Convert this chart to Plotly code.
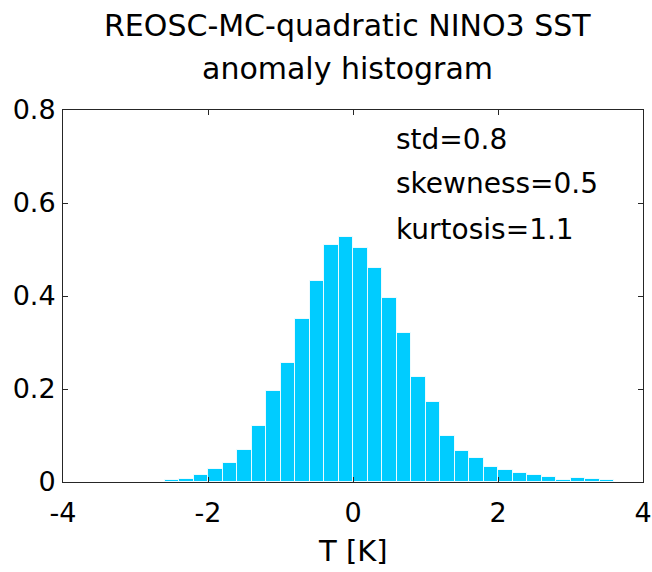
import plotly.graph_objects as go

# Histogram of NINO3 SST anomalies (bin centres in K, normalised frequency)
bin_centers = [-2.5, -2.3, -2.1, -1.9, -1.7, -1.5, -1.3, -1.1, -0.9, -0.7, -0.5,
               -0.3, -0.1, 0.1, 0.3, 0.5, 0.7, 0.9, 1.1, 1.3, 1.5, 1.7, 1.9,
               2.1, 2.3, 2.5, 2.7, 2.9, 3.1, 3.3, 3.5]
frequency = [0.004, 0.007, 0.015, 0.029, 0.040, 0.069, 0.121, 0.196, 0.257,
             0.351, 0.432, 0.510, 0.527, 0.504, 0.461, 0.395, 0.320, 0.225,
             0.173, 0.100, 0.067, 0.052, 0.032, 0.026, 0.020, 0.014, 0.011,
             0.004, 0.009, 0.006, 0.004]
bin_width = 0.2

x_ticks = [-4, -2, 0, 2, 4]
y_ticks = [0, 0.2, 0.4, 0.6, 0.8]
y_tick_text = ["0", "0.2", "0.4", "0.6", "0.8"]

title_lines = ["REOSC-MC-quadratic NINO3 SST", "anomaly histogram"]
stats_lines = ["std=0.8", "skewness=0.5", "kurtosis=1.1"]
x_label = "T [K]"

FONT = "DejaVu Sans, Liberation Sans, Arial, sans-serif"
W, H = 652, 572
L, R, T, B = 63, 9, 110, 90
plot_w = W - L - R
plot_h = H - T - B


def px_x(x_px):
    """Pixel column -> paper x."""
    return (x_px - L) / plot_w


def px_y(y_px):
    """Pixel row -> paper y."""
    return (H - B - y_px) / plot_h


fig = go.Figure()
fig.add_trace(go.Bar(
    x=bin_centers,
    y=frequency,
    width=[bin_width] * len(bin_centers),
    marker=dict(color="#00CCFF", line=dict(color="rgba(255,255,255,0.85)", width=1)),
    showlegend=False,
))

axis_common = dict(
    showgrid=False,
    zeroline=False,
    showline=True,
    linecolor="#262626",
    linewidth=1,
    mirror="ticks",
    ticks="inside",
    ticklen=5,
    tickcolor="#262626",
    ticklabeloverflow="allow",
    automargin=False,
    tickfont=dict(family=FONT, size=27, color="black"),
)

fig.update_xaxes(range=[-4, 4], tickvals=x_ticks, ticktext=[str(v) for v in x_ticks],
                 ticklabelstandoff=7, **axis_common)
fig.update_yaxes(range=[0, 0.8], tickvals=y_ticks, ticktext=y_tick_text,
                 ticklabelstandoff=1, **axis_common)

annotations = []
for text, y_px in zip(title_lines, [26, 68]):
    annotations.append(dict(text=text, x=px_x(347), y=px_y(y_px), xref="paper", yref="paper",
                            xanchor="center", yanchor="middle", showarrow=False,
                            font=dict(family=FONT, size=30, color="black")))
for text, y_px in zip(stats_lines, [139, 183, 229]):
    annotations.append(dict(text=text, x=0.56, y=px_y(y_px), xref="x", yref="paper",
                            xanchor="left", yanchor="middle", showarrow=False,
                            font=dict(family=FONT, size=28, color="black")))
annotations.append(dict(text=x_label, x=0, y=px_y(551), xref="x", yref="paper",
                        xanchor="center", yanchor="middle", showarrow=False,
                        font=dict(family=FONT, size=29, color="black")))

fig.update_layout(
    width=W, height=H,
    margin=dict(l=L, r=R, t=T, b=B, autoexpand=False),
    paper_bgcolor="white",
    plot_bgcolor="white",
    bargap=0,
    annotations=annotations,
)

fig.write_html("out.html")
